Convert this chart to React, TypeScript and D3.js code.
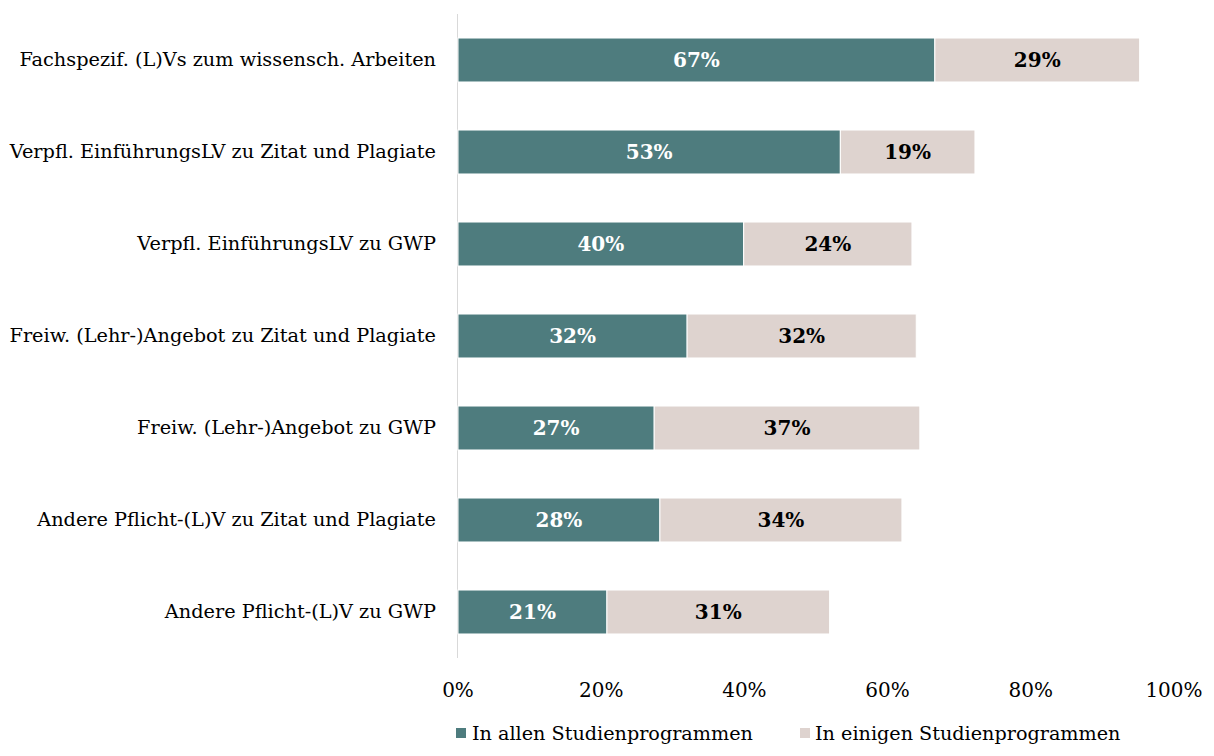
import React from "react";
import * as d3 from "d3";

const categories = [
  "Fachspezif. (L)Vs zum wissensch. Arbeiten",
  "Verpfl. EinführungsLV zu Zitat und Plagiate",
  "Verpfl. EinführungsLV zu GWP",
  "Freiw. (Lehr-)Angebot zu Zitat und Plagiate",
  "Freiw. (Lehr-)Angebot zu GWP",
  "Andere Pflicht-(L)V zu Zitat und Plagiate",
  "Andere Pflicht-(L)V zu GWP",
];
const allPrograms = [66.6, 53.4, 39.9, 32.0, 27.4, 28.2, 20.8];
const somePrograms = [28.6, 18.8, 23.5, 32.0, 37.1, 33.8, 31.1];
const seriesNames = ["In allen Studienprogrammen", "In einigen Studienprogrammen"];
const tickValues = [0, 20, 40, 60, 80, 100];

const W = 1214;
const H = 756;
const FONT = "'DejaVu Serif', 'Liberation Serif', serif";
const C1 = "#4E7C7E";
const C2 = "#DED3CF";

export default function App() {
  const x = d3.scaleLinear().domain([0, 100]).range([458, 1174]);
  const y = d3.scaleBand<string>().domain(categories).range([14, 658]).paddingInner(0.522).paddingOuter(0.261);
  const bh = y.bandwidth();
  return (
    <svg width={W} height={H} style={{ position: "absolute", left: 0, top: 0 }} fontFamily={FONT}>
      <rect width={W} height={H} fill="#fff" />
      <line x1={x(0) - 0.5} x2={x(0) - 0.5} y1={14} y2={658} stroke="#d9d9d9" strokeWidth={1} />
      {categories.map((c, i) => {
        const y0 = y(c)!;
        const a = allPrograms[i];
        const b = somePrograms[i];
        return (
          <g key={c}>
            <rect x={x(0)} y={y0} width={x(a) - x(0)} height={bh} fill={C1} stroke="#fff" strokeWidth={1} />
            <rect x={x(a)} y={y0} width={x(a + b) - x(a)} height={bh} fill={C2} stroke="#fff" strokeWidth={1} />
            <text x={(x(0) + x(a)) / 2} y={y0 + bh / 2} dy="0.36em" textAnchor="middle" fill="#fff" fontWeight="bold" fontSize={20}>
              {Math.round(a)}%
            </text>
            <text x={(x(a) + x(a + b)) / 2} y={y0 + bh / 2} dy="0.36em" textAnchor="middle" fill="#000" fontWeight="bold" fontSize={20}>
              {Math.round(b)}%
            </text>
            <text x={436} y={y0 + bh / 2} dy="0.33em" textAnchor="end" fill="#000" fontSize={19.3}>
              {c}
            </text>
          </g>
        );
      })}
      {tickValues.map((t) => (
        <text key={t} x={x(t)} y={690} dy="0.35em" textAnchor="middle" fontSize={20} fill="#000">
          {t}%
        </text>
      ))}
      <rect x={456} y={728} width={10} height={10} fill={C1} />
      <text x={472} y={733} dy="0.35em" fontSize={19.2} fill="#000">{seriesNames[0]}</text>
      <rect x={800} y={728} width={10} height={10} fill={C2} />
      <text x={815} y={733} dy="0.35em" fontSize={19.2} fill="#000">{seriesNames[1]}</text>
    </svg>
  );
}
